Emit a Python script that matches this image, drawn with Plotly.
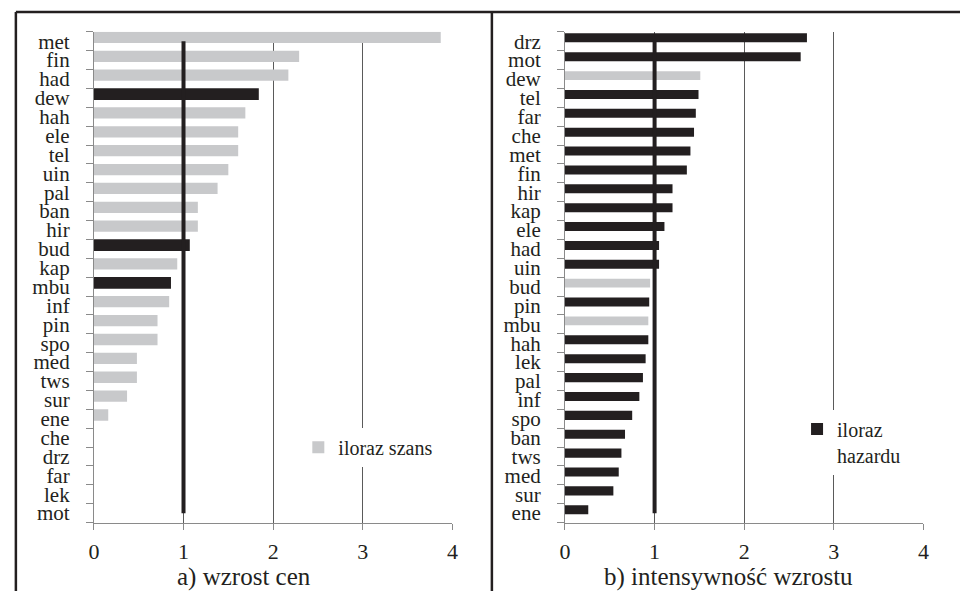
import plotly.graph_objects as go

# Panel a) price growth: odds ratios per sector
cats_a = ["met", "fin", "had", "dew", "hah", "ele", "tel", "uin", "pal", "ban",
          "hir", "bud", "kap", "mbu", "inf", "pin", "spo", "med", "tws", "sur",
          "ene", "che", "drz", "far", "lek", "mot"]
odds_a = [3.87, 2.29, 2.17, 1.84, 1.69, 1.61, 1.61, 1.50, 1.38, 1.16,
          1.16, 1.07, 0.93, 0.86, 0.84, 0.71, 0.71, 0.48, 0.48, 0.37,
          0.16, None, None, None, None, None]
dark_a = ["dew", "bud", "mbu"]

# Panel b) growth intensity: hazard ratios per sector
cats_b = ["drz", "mot", "dew", "tel", "far", "che", "met", "fin", "hir", "kap",
          "ele", "had", "uin", "bud", "pin", "mbu", "hah", "lek", "pal", "inf",
          "spo", "ban", "tws", "med", "sur", "ene"]
hazard_b = [2.70, 2.63, 1.51, 1.49, 1.46, 1.44, 1.40, 1.36, 1.20, 1.20,
            1.11, 1.05, 1.05, 0.95, 0.94, 0.93, 0.93, 0.90, 0.87, 0.83,
            0.75, 0.67, 0.63, 0.60, 0.54, 0.26]
light_b = ["dew", "bud", "mbu"]

x_ticks = [0, 1, 2, 3, 4]
ref_value = 1

GRAY = "#c8c9cb"
DARK = "#231f20"
AXIS = "#8a8a8a"
GRID = "#5a5a5a"
FONT = "Times New Roman"

W, H = 966, 594


def px_x(p):
    return p / W


def px_y(p):
    return 1 - p / H


fig = go.Figure()

# --- panel a --- (bars sit in the upper part of each category band)
fig.add_trace(go.Bar(
    y=cats_a, x=[v if c not in dark_a else None for c, v in zip(cats_a, odds_a)],
    orientation="h", marker=dict(color=GRAY, line=dict(width=0)),
    width=0.6, offset=-0.5,
    name="iloraz szans", legend="legend", xaxis="x", yaxis="y",
))
fig.add_trace(go.Bar(
    y=cats_a, x=[v if c in dark_a else None for c, v in zip(cats_a, odds_a)],
    orientation="h", marker=dict(color=DARK, line=dict(width=0)),
    width=0.62, offset=-0.51,
    showlegend=False, xaxis="x", yaxis="y",
))
fig.add_trace(go.Scatter(
    x=[ref_value, ref_value], y=[cats_a[0], cats_a[-1]], mode="lines",
    line=dict(color=DARK, width=4), showlegend=False, xaxis="x", yaxis="y",
))

# --- panel b ---
fig.add_trace(go.Bar(
    y=cats_b, x=[v if c not in light_b else None for c, v in zip(cats_b, hazard_b)],
    orientation="h", marker=dict(color=DARK, line=dict(width=0)),
    width=0.48, offset=-0.42,
    name="iloraz<br>hazardu", legend="legend2", xaxis="x2", yaxis="y2",
))
fig.add_trace(go.Bar(
    y=cats_b, x=[v if c in light_b else None for c, v in zip(cats_b, hazard_b)],
    orientation="h", marker=dict(color=GRAY, line=dict(width=0)),
    width=0.46, offset=-0.41,
    showlegend=False, xaxis="x2", yaxis="y2",
))
fig.add_trace(go.Scatter(
    x=[ref_value, ref_value], y=[cats_b[0], cats_b[-1]], mode="lines",
    line=dict(color=DARK, width=4), showlegend=False, xaxis="x2", yaxis="y2",
))

xcommon = dict(
    range=[0, 4], tickvals=x_ticks, showgrid=True, gridcolor=GRID, gridwidth=1,
    zeroline=False, showline=True, linecolor=AXIS, linewidth=1,
    ticks="outside", ticklen=6, tickcolor=AXIS, ticklabelstandoff=3,
    tickfont=dict(family=FONT, size=22, color=DARK), fixedrange=True,
)
ycommon = dict(
    type="category", showgrid=False, zeroline=False,
    showline=True, linecolor=AXIS, linewidth=1, ticks="outside", ticklen=7,
    tickcolor=AXIS, tickson="boundaries", ticklabelstandoff=19,
    tickfont=dict(family=FONT, size=21, color=DARK), fixedrange=True,
    domain=[px_y(525), px_y(30)],
)

fig.update_layout(
    width=W, height=H,
    margin=dict(l=0, r=0, t=0, b=0),
    paper_bgcolor="white", plot_bgcolor="white",
    barmode="overlay",
    font=dict(family=FONT, color=DARK),
    xaxis=dict(domain=[px_x(89), px_x(452)], anchor="y", **xcommon),
    yaxis=dict(anchor="x", categoryorder="array", categoryarray=cats_a,
               tickmode="array", tickvals=cats_a, ticktext=cats_a,
               range=[len(cats_a) - 0.5, -0.5], **ycommon),
    xaxis2=dict(domain=[px_x(566), px_x(929)], anchor="y2", **xcommon),
    yaxis2=dict(anchor="x2", categoryorder="array", categoryarray=cats_b,
                tickmode="array", tickvals=cats_b, ticktext=cats_b,
                range=[len(cats_b) - 0.5, -0.5], **ycommon),
    legend=dict(
        x=px_x(296), y=px_y(449), xanchor="left", yanchor="middle",
        bgcolor="white", borderwidth=0, itemwidth=30,
        font=dict(family=FONT, size=20, color=DARK),
    ),
    legend2=dict(
        x=px_x(801), y=px_y(411), xanchor="left", yanchor="top", valign="top",
        bgcolor="white", borderwidth=0, itemwidth=30,
        font=dict(family=FONT, size=20, color=DARK),
    ),
    annotations=[
        dict(text="a) wzrost cen", x=px_x(241), y=px_y(580), xref="paper", yref="paper",
             showarrow=False, xanchor="center", yanchor="middle",
             font=dict(family=FONT, size=25, color=DARK)),
        dict(text="b) intensywność wzrostu", x=px_x(732), y=px_y(580), xref="paper",
             yref="paper", showarrow=False, xanchor="center", yanchor="middle",
             font=dict(family=FONT, size=25, color=DARK)),
    ],
    shapes=[
        dict(type="line", xref="paper", yref="paper", x0=px_x(10), x1=1,
             y0=px_y(10), y1=px_y(10), line=dict(color=DARK, width=2.5)),
        dict(type="line", xref="paper", yref="paper", x0=px_x(10), x1=px_x(10),
             y0=px_y(10), y1=0, line=dict(color=DARK, width=2.5)),
        dict(type="line", xref="paper", yref="paper", x0=px_x(492), x1=px_x(492),
             y0=px_y(10), y1=0, line=dict(color=DARK, width=2.5)),
    ],
)

fig.write_html("out.html", config={"displayModeBar": False})
